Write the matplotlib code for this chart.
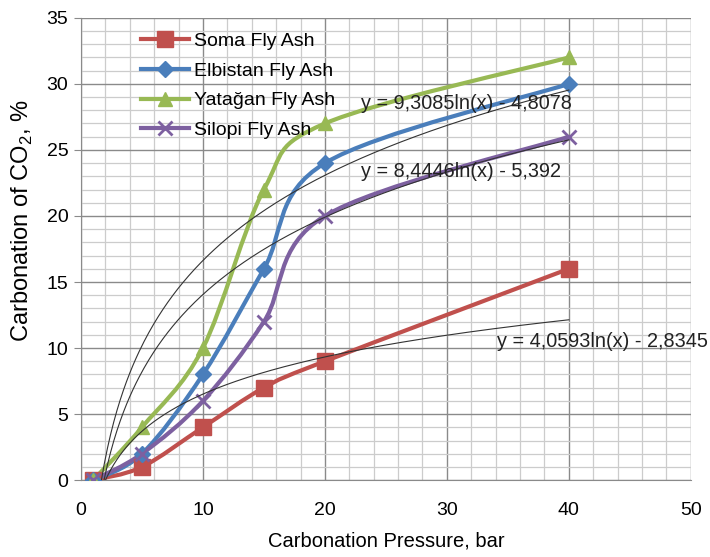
import numpy as np
import matplotlib.pyplot as plt
from matplotlib.path import Path
from matplotlib.patches import PathPatch
from matplotlib.lines import Line2D

plt.rcParams['font.family'] = ['Liberation Sans', 'DejaVu Sans']
plt.rcParams['mathtext.fontset'] = 'custom'
plt.rcParams['mathtext.rm'] = 'Liberation Sans'

# data
pressure = [1, 5, 10, 15, 20, 40]
soma = [0, 1, 4, 7, 9, 16]
elbistan = [0, 2, 8, 16, 24, 30]
yatagan = [0, 4, 10, 22, 27, 32]
silopi = [0, 2, 6, 12, 20, 26]

names = ['Soma Fly Ash', 'Elbistan Fly Ash', 'Yatağan Fly Ash', 'Silopi Fly Ash']
colors = ['#C0504D', '#4A7EBB', '#98B954', '#7D60A0']
markers = ['s', 'D', '^', 'x']
msizes = [12, 8.5, 10.5, 10.5]

# log trendlines shown on the chart
fit_a = [9.3085, 8.4446, 4.0593]
fit_b = [-4.8078, -5.392, -2.8345]
fit_text = ['y = 9,3085ln(x) - 4,8078', 'y = 8,4446ln(x) - 5,392', 'y = 4,0593ln(x) - 2,8345']
fit_pos = [(23.0, 28.5), (23.0, 23.4), (34.1, 10.5)]


def smooth_path(x, y):
    # excel style smoothed line (catmull-rom as bezier)
    pts = np.column_stack([x, y]).astype(float)
    n = len(pts)
    verts = [pts[0]]
    codes = [Path.MOVETO]
    for i in range(n - 1):
        p0 = pts[max(i - 1, 0)]
        p1 = pts[i]
        p2 = pts[i + 1]
        p3 = pts[min(i + 2, n - 1)]
        verts += [p1 + (p2 - p0) / 6, p2 - (p3 - p1) / 6, p2]
        codes += [Path.CURVE4] * 3
    return Path(verts, codes)


fig = plt.figure(figsize=(7.1, 5.57), dpi=100)
ax = fig.add_axes([0.114, 0.138, 0.859, 0.830])

ax.set_xlim(0, 50)
ax.set_ylim(0, 35)
ax.set_xticks(np.arange(0, 51, 10))
ax.set_xticks(np.arange(0, 51, 2), minor=True)
ax.set_yticks(np.arange(0, 36, 5))
ax.set_yticks(np.arange(0, 36, 1), minor=True)
ax.grid(which='major', color='#8a8a8a', lw=1.0)
ax.grid(which='minor', color='#cccccc', lw=0.9)
ax.set_axisbelow(True)
for s in ['top', 'right']:
    ax.spines[s].set_visible(False)
for s in ['left', 'bottom']:
    ax.spines[s].set_color('#8a8a8a')
ax.tick_params(axis='y', which='major', length=5, color='#8a8a8a', labelsize=14, pad=4)
ax.tick_params(axis='x', which='major', length=0, labelsize=14, pad=16)
ax.tick_params(which='minor', length=0)

series = [soma, elbistan, yatagan, silopi]
handles = []
for vals, name, c, m, ms in zip(series, names, colors, markers, msizes):
    ax.add_patch(PathPatch(smooth_path(pressure, vals), fill=False, edgecolor=c, lw=3, zorder=3))
    ax.plot(pressure, vals, ls='none', marker=m, ms=ms, color=c, mew=2 if m == 'x' else 1, zorder=4)
    handles.append(Line2D([], [], color=c, lw=3, marker=m, ms=ms, mew=2 if m == 'x' else 1))

xf = np.linspace(1, 40, 300)
for a, b, t, p in zip(fit_a, fit_b, fit_text, fit_pos):
    ax.plot(xf, a * np.log(xf) + b, color='#333333', lw=0.8, zorder=5)
    ax.text(p[0], p[1], t, fontsize=14.3, va='center', ha='left', color='#222222', zorder=6)

ax.legend(handles, names, loc='upper left', bbox_to_anchor=(0.085, 0.985), frameon=False,
          fontsize=14, handlelength=2.5, labelspacing=0.62, handletextpad=0.25, borderaxespad=0)

ax.set_xlabel('Carbonation Pressure, bar', fontsize=14.5)
ax.xaxis.set_label_coords(0.5, -0.112)
ax.set_ylabel('Carbonation of CO$_2$, %', fontsize=17)
ax.yaxis.set_label_coords(-0.075, 0.56)

fig.savefig('out.png', dpi=100)
